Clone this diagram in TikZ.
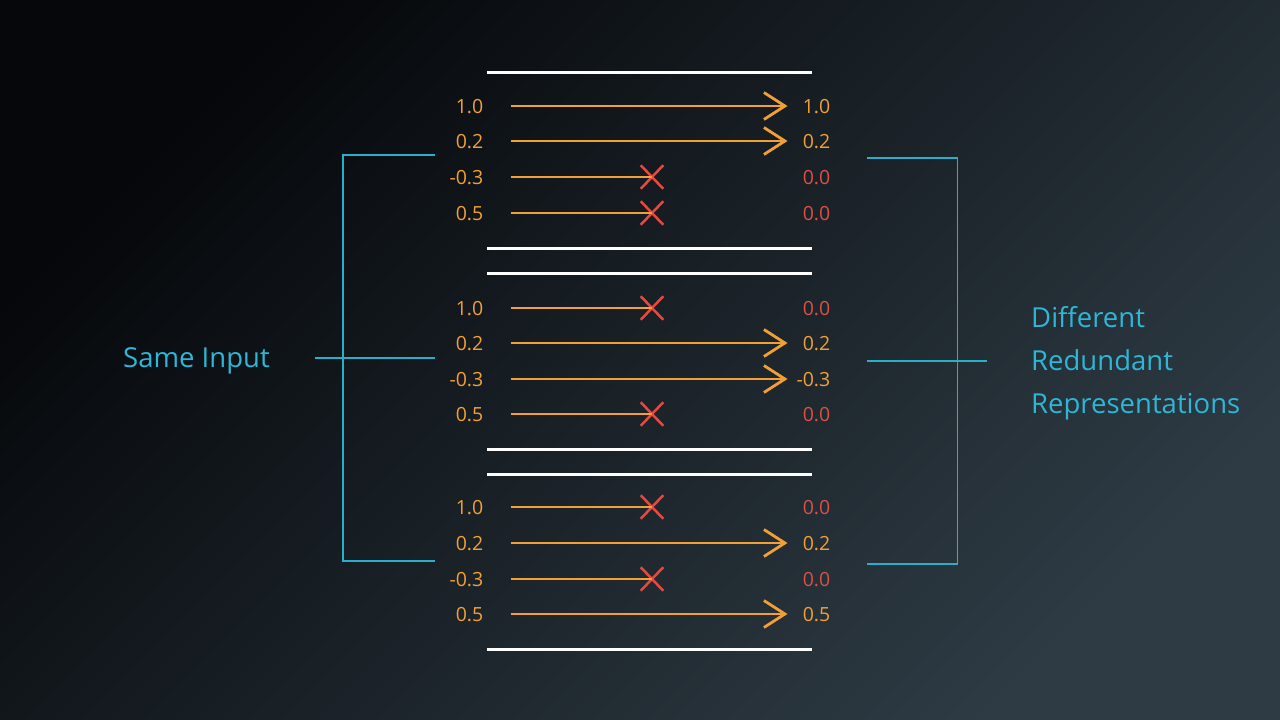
\documentclass[tikz,border=0pt]{standalone}
\usepackage{fontspec}
\setmainfont{Open Sans}
\usetikzlibrary{arrows.meta,shapes.misc}
\definecolor{bgA}{HTML}{05070A}
\definecolor{bgB}{HTML}{13171B}
\definecolor{bgC}{HTML}{2E3B44}
\definecolor{orng}{HTML}{F2A035}
\definecolor{redx}{HTML}{E8483E}
\definecolor{redt}{HTML}{DD4F47}
\definecolor{cyanl}{HTML}{2AAFCB}
\definecolor{cyant}{HTML}{2DB6D6}
\tikzset{
  num/.style={font=\fontsize{19.5}{20}\selectfont, inner sep=0pt, text height=14pt, text depth=0pt, text=orng},
  lnum/.style={num, anchor=east},
  rnum/.style={num, anchor=east},
  zero/.style={text=redt},
  pass/.style={draw=orng, line width=2.8pt, shorten <=27pt, shorten >=43pt,
    -{Straight Barb[length=21pt,width=27pt,line width=2.8pt]}},
  drop/.style={draw=orng, line width=2.8pt, shorten <=27pt},
  xmark/.style={cross out, draw=redx, line width=2.5pt, minimum width=20pt, minimum height=21pt, inner sep=0pt},
  sep/.style={draw=white, line width=3pt},
  brk/.style={draw=cyanl, line width=1.6pt},
  lab/.style={font=\fontsize{27.5}{30}\selectfont, text=cyant, inner sep=0pt},
}
\begin{document}
\begin{tikzpicture}[x=1pt,y=-1pt]
\useasboundingbox (0,0) rectangle (1280,720);
\shade[top color=bgA, middle color=bgB, bottom color=bgC, shading angle=45] (0,0) rectangle (1280,720);

% separators
\foreach \i/\yy in {1/72,2/248,3/273,4/449,5/474,6/649}{
  \coordinate (sa\i) at (487,\yy);
  \coordinate (sb\i) at (812,\yy);
  \draw[sep] (sa\i) -- (sb\i);
}

% rows: name / y / input / output / kept?
\foreach \n/\yy/\a/\b/\k in {
  a1/106/1.0/1.0/1, a2/141/0.2/0.2/1, a3/177/-0.3/0.0/0, a4/213/0.5/0.0/0,
  b1/308/1.0/0.0/0, b2/343/0.2/0.2/1, b3/379/-0.3/-0.3/1, b4/414/0.5/0.0/0,
  c1/507/1.0/0.0/0, c2/543/0.2/0.2/1, c3/579/-0.3/0.0/0, c4/614/0.5/0.5/1}{
  \node[lnum] (l\n) at (483.5,\yy) {\a};
  \ifnum\k=1
    \node[rnum] (r\n) at (830.5,\yy) {\b};
    \draw[pass] (l\n.east) -- (l\n.east -| r\n.east);
  \else
    \node[rnum, zero] (r\n) at (830.5,\yy) {\b};
    \node[xmark] (x\n) at (652,\yy) {};
    \draw[drop] (l\n.east) -- (x\n.center);
  \fi
}

% left bracket
\coordinate (lt) at (435,155);
\coordinate (ltc) at (343,155);
\coordinate (lbc) at (343,561);
\coordinate (lb) at (435,561);
\coordinate (lm) at (435,358);
\coordinate (lmo) at (315,358);
\draw[brk] (lt) -- (ltc) -- (lbc) -- (lb);
\draw[brk] (lmo) -- (lm);

% right bracket
\coordinate (rt) at (867,158);
\coordinate (rtc) at (957.5,158);
\coordinate (rbc) at (957.5,564);
\coordinate (rb) at (867,564);
\coordinate (rm) at (867,361);
\coordinate (rmo) at (987,361);
\draw[brk] (rt) -- (rtc) -- (rbc) -- (rb);
\draw[brk] (rm) -- (rmo);

% labels
\node[lab, anchor=base west] (same) at (123,367) {Same Input};
\node[lab, anchor=base west] (t1) at (1031,327) {Different};
\node[lab, anchor=base west] (t2) at (1031,370) {Redundant};
\node[lab, anchor=base west] (t3) at (1031,413) {Representations};
\end{tikzpicture}
\end{document}
